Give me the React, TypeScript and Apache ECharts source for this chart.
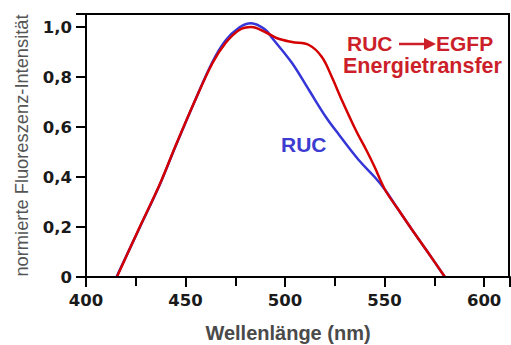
import React, { useEffect, useRef } from "react";
import * as echarts from "echarts";

const redWavelengths = [415.5, 427, 437, 445, 455, 463.5, 470, 477, 483, 490, 496, 503.5, 512, 518.5, 523.5, 528.5, 535.5, 541, 545, 550.3, 556, 563.7, 572, 580.3];
const redValues = [0, 0.2, 0.37, 0.525, 0.71, 0.855, 0.935, 0.988, 1.0, 0.98, 0.955, 0.94, 0.928, 0.88, 0.8, 0.708, 0.588, 0.505, 0.44, 0.348, 0.28, 0.19, 0.096, 0];

const blueWavelengths = [415.3, 427, 437, 445, 455, 463.5, 470, 477, 483, 490, 493.5, 503.5, 512, 520.5, 527, 537, 545, 550.3, 556, 563.7, 572, 580.3];
const blueValues = [0, 0.198, 0.368, 0.523, 0.71, 0.86, 0.945, 0.998, 1.015, 0.99, 0.956, 0.856, 0.748, 0.64, 0.57, 0.468, 0.4, 0.348, 0.28, 0.19, 0.096, 0];

const yTicks = [0, 0.2, 0.4, 0.6, 0.8, 1.0];
const xTicks = [400, 450, 500, 550, 600];

const FONT = "Arial, 'Liberation Sans', Helvetica, sans-serif";
const NUMFONT = "'DejaVu Sans', Verdana, sans-serif";

export default function App() {
  const ref = useRef<HTMLDivElement>(null);
  useEffect(() => {
    if (!ref.current) return;
    const chart = echarts.init(ref.current, null, { renderer: "svg" });
    const red = redWavelengths.map((x, i) => [x, redValues[i]]);
    const blue = blueWavelengths.map((x, i) => [x, blueValues[i]]);
    chart.setOption({
      animation: false,
      backgroundColor: "#fff",
      textStyle: { fontFamily: FONT },
      grid: {
        left: 86,
        right: 1,
        top: 14,
        bottom: 68,
        show: false,
        outerBoundsMode: "none",
        containLabel: false,
      },
      xAxis: {
        type: "value",
        min: 400,
        max: 613,
        interval: 50,
        name: "Wellenlänge (nm)",
        nameLocation: "middle",
        nameGap: 46,
        nameTextStyle: {
          fontSize: 20,
          fontWeight: "bold",
          color: "#4a4a4a",
          fontFamily: FONT,
          padding: [0, 20, 0, 0],
        },
        axisLine: { show: true, lineStyle: { color: "#000", width: 2 } },
        axisTick: { show: true, inside: false, length: 10, lineStyle: { color: "#000", width: 2 } },
        minorTick: { show: true, splitNumber: 2, length: 9, lineStyle: { color: "#000", width: 2 } },
        splitLine: { show: false },
        axisLabel: {
          margin: 15,
          fontSize: 16.5,
          fontWeight: "bold",
          color: "#1a1a1a",
          fontFamily: NUMFONT,
          formatter: (v: number) => (xTicks.includes(v) ? String(v) : ""),
        },
      },
      yAxis: {
        type: "value",
        min: 0,
        max: 1.052,
        interval: 0.2,
        name: "normierte Fluoreszenz-Intensität",
        nameLocation: "middle",
        nameGap: 56,
        nameRotate: 90,
        nameTextStyle: { fontSize: 18.3, color: "#555", fontFamily: FONT },
        axisLine: { show: true, lineStyle: { color: "#000", width: 2 } },
        axisTick: { show: true, inside: false, length: 10, lineStyle: { color: "#000", width: 2 } },
        splitLine: { show: false },
        axisLabel: {
          margin: 14,
          fontSize: 16.5,
          fontWeight: "bold",
          color: "#1a1a1a",
          fontFamily: NUMFONT,
          formatter: (v: number) => {
            const t = yTicks.find((y) => Math.abs(y - v) < 1e-6);
            if (t === undefined) return "";
            return t === 0 ? "0" : t.toFixed(1).replace(".", ",");
          },
        },
      },
      series: [
        {
          name: "RUC",
          type: "line",
          data: blue,
          smooth: 0.35,
          showSymbol: false,
          lineStyle: { color: "#3535d8", width: 2.5 },
          z: 2,
        },
        {
          name: "RUC → EGFP Energietransfer",
          type: "line",
          data: red,
          smooth: 0.35,
          showSymbol: false,
          lineStyle: { color: "#d40000", width: 2.5 },
          z: 3,
        },
      ],
      graphic: [
        {
          type: "rect",
          shape: { x: 86, y: 14, width: 423, height: 263 },
          style: { fill: "none", stroke: "#000", lineWidth: 2 },
          z: 10,
          silent: true,
        },
        {
          type: "text",
          left: 347,
          top: 33,
          style: { text: "RUC", fill: "#cc1f2a", font: `bold 21px ${FONT}` },
        },
        {
          type: "line",
          shape: { x1: 399, y1: 44, x2: 427, y2: 44 },
          style: { stroke: "#cc1f2a", lineWidth: 2.5 },
        },
        {
          type: "polygon",
          shape: { points: [[424, 38], [436, 44], [424, 50]] },
          style: { fill: "#cc1f2a" },
        },
        {
          type: "text",
          left: 436,
          top: 33,
          style: { text: "EGFP", fill: "#cc1f2a", font: `bold 21px ${FONT}` },
        },
        {
          type: "text",
          left: 343,
          top: 55,
          style: { text: "Energietransfer", fill: "#cc1f2a", font: `bold 21.5px ${FONT}` },
        },
        {
          type: "text",
          left: 281,
          top: 134,
          style: { text: "RUC", fill: "#3c3cd0", font: `bold 21px ${FONT}` },
        },
      ],
    });
    return () => chart.dispose();
  }, []);
  return (
    <div
      ref={ref}
      style={{ position: "absolute", left: 0, top: 0, width: 511, height: 345 }}
    />
  );
}
